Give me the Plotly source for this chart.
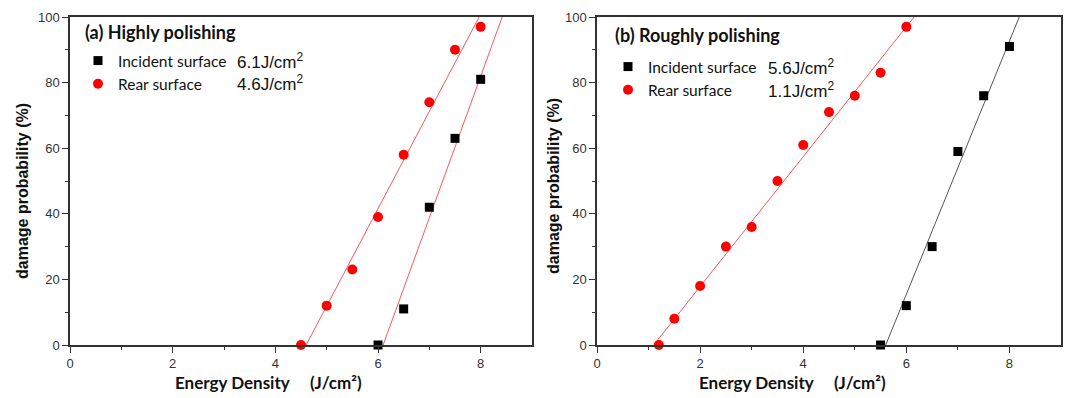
import plotly.graph_objects as go

# ---- data: panel (a) Highly polishing ----
a_inc_x = [6.0, 6.5, 7.0, 7.5, 8.0]
a_inc_y = [0, 11, 42, 63, 81]
a_rear_x = [4.5, 5.0, 5.5, 6.0, 6.5, 7.0, 7.5, 8.0]
a_rear_y = [0, 12, 23, 39, 58, 74, 90, 97]
a_inc_fit_x = [6.1, 8.42]
a_inc_fit_y = [0, 100]
a_rear_fit_x = [4.6, 7.97]
a_rear_fit_y = [0, 100]
a_title = "(a) Highly polishing"
a_inc_thr = "6.1J/cm<sup>2</sup>"
a_rear_thr = "4.6J/cm<sup>2</sup>"

# ---- data: panel (b) Roughly polishing ----
b_inc_x = [5.5, 6.0, 6.5, 7.0, 7.5, 8.0]
b_inc_y = [0, 12, 30, 59, 76, 91]
b_rear_x = [1.2, 1.5, 2.0, 2.5, 3.0, 3.5, 4.0, 4.5, 5.0, 5.5, 6.0]
b_rear_y = [0, 8, 18, 30, 36, 50, 61, 71, 76, 83, 97]
b_inc_fit_x = [5.6, 8.19]
b_inc_fit_y = [0, 100]
b_rear_fit_x = [1.1, 6.15]
b_rear_fit_y = [0, 100]
b_title = "(b) Roughly polishing"
b_inc_thr = "5.6J/cm<sup>2</sup>"
b_rear_thr = "1.1J/cm<sup>2</sup>"

x_ticks = [0, 2, 4, 6, 8]
y_ticks = [0, 20, 40, 60, 80, 100]

RED = "#ff0000"
RED_LINE = "#f55a5a"
BLACK = "#000000"
GRAY_LINE = "#555555"
TXT = "#111111"
LEG_FONT = dict(family="Lato", size=15.5, color=TXT)
VAL_FONT = dict(family="Liberation Sans", size=17, color=TXT)

fig = go.Figure()

def add_panel(xa, ya, leg, inc_x, inc_y, rear_x, rear_y, ifx, ify, rfx, rfy, inc_line_color):
    fig.add_trace(go.Scatter(x=ifx, y=ify, mode="lines", xaxis=xa, yaxis=ya,
                             line=dict(color=inc_line_color, width=1), showlegend=False))
    fig.add_trace(go.Scatter(x=rfx, y=rfy, mode="lines", xaxis=xa, yaxis=ya,
                             line=dict(color=RED_LINE, width=1), showlegend=False))
    fig.add_trace(go.Scatter(x=inc_x, y=inc_y, mode="markers", xaxis=xa, yaxis=ya,
                             name="Incident surface", legend=leg,
                             marker=dict(symbol="square", size=9, color=BLACK),
                             cliponaxis=False))
    fig.add_trace(go.Scatter(x=rear_x, y=rear_y, mode="markers", xaxis=xa, yaxis=ya,
                             name="Rear surface", legend=leg,
                             marker=dict(symbol="circle", size=10, color=RED),
                             cliponaxis=False))

add_panel("x", "y", "legend", a_inc_x, a_inc_y, a_rear_x, a_rear_y,
          a_inc_fit_x, a_inc_fit_y, a_rear_fit_x, a_rear_fit_y, RED_LINE)
add_panel("x2", "y2", "legend2", b_inc_x, b_inc_y, b_rear_x, b_rear_y,
          b_inc_fit_x, b_inc_fit_y, b_rear_fit_x, b_rear_fit_y, GRAY_LINE)

axis_common = dict(
    showline=True, linecolor="#333333", linewidth=1.5, mirror=True,
    ticks="outside", ticklen=6, tickwidth=1.2, tickcolor="#333333",
    showgrid=False, zeroline=False, automargin=False,
    tickfont=dict(family="Liberation Sans", size=13, color="#333333"),
)
xminor = dict(ticks="outside", ticklen=3, tickwidth=1, tickcolor="#333333", tickvals=[1, 3, 5, 7])
yminor = dict(ticks="outside", ticklen=3, tickwidth=1, tickcolor="#333333",
              tickvals=[10, 30, 50, 70, 90])

L, R, T, B = 70, 7, 17, 53
W, H = 1068, 398
pw = W - L - R
ph = H - T - B
d1 = [0, (532 - L) / pw]
d2 = [(597 - L) / pw, 1]

def px(xp):
    return (xp - L) / pw

def py(yp):
    return (H - B - yp) / ph

fig.update_layout(
    width=W, height=H,
    margin=dict(l=L, r=R, t=T, b=B, autoexpand=False),
    paper_bgcolor="white", plot_bgcolor="white",
    xaxis=dict(domain=d1, range=[0, 9], tickvals=x_ticks, minor=xminor, anchor="y", **axis_common),
    yaxis=dict(domain=[0, 1], range=[0, 100], tickvals=y_ticks, minor=yminor, anchor="x", **axis_common),
    xaxis2=dict(domain=d2, range=[0, 9], tickvals=x_ticks, minor=xminor, anchor="y2", **axis_common),
    yaxis2=dict(domain=[0, 1], range=[0, 100], tickvals=y_ticks, minor=yminor, anchor="x2", **axis_common),
    legend=dict(x=px(78), y=py(44), xref="paper", yref="paper",
                xanchor="left", yanchor="top", bgcolor="rgba(0,0,0,0)",
                font=LEG_FONT, tracegroupgap=0, itemwidth=30),
    legend2=dict(x=px(608), y=py(50), xref="paper", yref="paper",
                 xanchor="left", yanchor="top", bgcolor="rgba(0,0,0,0)",
                 font=LEG_FONT, tracegroupgap=0, itemwidth=30),
    showlegend=True,
)

ann = []
def add_text(xp, yp, text, font, anchor="left", angle=0):
    ann.append(dict(x=px(xp), y=py(yp), xref="paper", yref="paper", textangle=angle,
                    text=text, showarrow=False, xanchor=anchor, yanchor="middle", font=font))

panel_title_font = dict(family="Lato", size=18, color=TXT)
add_text(83, 32, "<b>" + a_title + "</b>", panel_title_font)
add_text(613, 35, "<b>" + b_title + "</b>", panel_title_font)

add_text(306, 61, a_inc_thr, VAL_FONT, "right")
add_text(306, 83, a_rear_thr, VAL_FONT, "right")
add_text(837, 67, b_inc_thr, VAL_FONT, "right")
add_text(837, 90, b_rear_thr, VAL_FONT, "right")

NB = "\u00a0"
xtitle = "<b>Energy Density" + NB * 5 + "(J/cm²)</b>"
title_font = dict(family="Lato", size=17, color=TXT)
add_text(268, 382, xtitle, title_font, "center")
add_text(792, 382, xtitle, title_font, "center")

ytitle_font = dict(family="Liberation Sans", size=16, color=TXT)
add_text(22, 191, "<b>damage probability (%)</b>", ytitle_font, "center", -90)
add_text(553, 186, "<b>damage probability (%)</b>", ytitle_font, "center", -90)

fig.update_layout(annotations=ann)
fig.write_html("out.html",
               config={"displayModeBar": False},
               post_script="document.body.style.margin='0';document.body.style.overflow='hidden';")
